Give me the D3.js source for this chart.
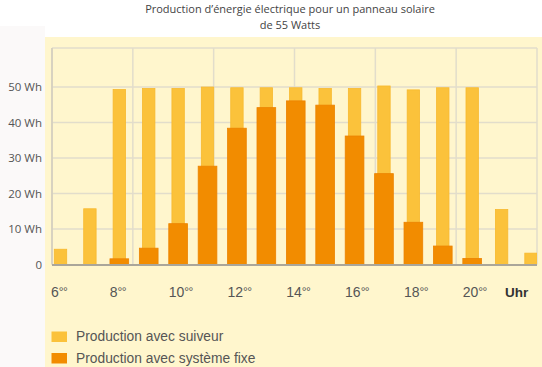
<!DOCTYPE html>
<html><head><meta charset="utf-8">
<script src="https://cdn.jsdelivr.net/npm/d3@7"></script>
<style>body{margin:0;background:#fff}svg{display:block}</style>
</head><body><svg id="c" width="542" height="367"></svg>
<script>
const hours = [6,7,8,9,10,11,12,13,14,15,16,17,18,19,20,21,22];
const suiveur = [4.3,15.7,49.3,49.6,49.6,50,49.8,49.8,49.8,49.6,49.6,50.3,49.2,49.8,49.8,15.5,3.2];
const fixe =    [0,0,1.6,4.6,11.5,27.7,38.4,44.2,46.1,44.9,36.2,25.6,11.9,5.2,1.7,0,0];
const yTicks = [0,10,20,30,40,50];
const yTickLabels = ["0","10 Wh","20 Wh","30 Wh","40 Wh","50 Wh"];
const xLabelHours = [6,8,10,12,14,16,18,20];
const legendLabels = ["Production avec suiveur","Production avec système fixe"];
const colors = ["#fbc23b","#f28c00"];

const svg = d3.select("#c");
const sans = "'Liberation Sans',Arial,sans-serif";
const myriad = "'Open Sans','Noto Sans',sans-serif";

svg.append("rect").attr("x",0).attr("y",26).attr("width",45).attr("height",341).attr("fill","#fbf9f9");
svg.append("rect").attr("x",45).attr("y",37).attr("width",497).attr("height",330).attr("fill","#fff6cd");

const L=52,R=537,T=48,B=264.5;
const y = d3.scaleLinear().domain([0,61]).range([B,T]);
const x = d3.scaleLinear().domain([6,22]).range([60.5,531]);
const g = d3.scaleLinear().domain([0,6]).range([L,R]);

// grid
svg.append("g").selectAll("line").data(yTicks.filter(d=>d>0)).join("line")
  .attr("x1",L).attr("x2",R).attr("y1",d=>y(d)).attr("y2",d=>y(d))
  .attr("stroke","#e2ddcb").attr("stroke-width",1.5);
svg.append("line").attr("x1",L).attr("x2",R).attr("y1",T).attr("y2",T).attr("stroke","#e2ddcb").attr("stroke-width",1.5);
svg.append("g").selectAll("line").data(d3.range(0,7)).join("line")
  .attr("x1",d=>g(d)).attr("x2",d=>g(d)).attr("y1",T).attr("y2",B)
  .attr("stroke","#e2ddcb").attr("stroke-width",1.5);

svg.append("clipPath").attr("id","pc").append("rect")
  .attr("x",L).attr("y",0).attr("width",R-L).attr("height",B+2);
const bars = svg.append("g").attr("clip-path","url(#pc)");
const tw=12.4, fw=18.7;
bars.selectAll("rect.s").data(hours).join("rect").attr("class","s")
  .attr("x",(d)=>x(d)-tw/2).attr("width",tw)
  .attr("y",(d,i)=>y(suiveur[i])).attr("height",(d,i)=>B-y(suiveur[i]))
  .attr("fill",colors[0]).attr("stroke","#f7b92e").attr("stroke-width",0.8);
bars.selectAll("rect.f").data(hours.filter((d,i)=>fixe[i]>0)).join("rect").attr("class","f")
  .attr("x",d=>x(d)-fw/2).attr("width",fw)
  .attr("y",d=>y(fixe[hours.indexOf(d)])).attr("height",d=>B-y(fixe[hours.indexOf(d)]))
  .attr("fill",colors[1]).attr("stroke","#ec8300").attr("stroke-width",0.8);

// axes lines
svg.append("line").attr("x1",L).attr("x2",L).attr("y1",T).attr("y2",B).attr("stroke","#d2cdbd").attr("stroke-width",1.5);
svg.append("line").attr("x1",L).attr("x2",R).attr("y1",B+0.5).attr("y2",B+0.5).attr("stroke","#aaa69a").attr("stroke-width",2);

// y labels
svg.append("g").selectAll("text").data(yTicks).join("text")
  .attr("x",42).attr("y",d=>y(d)+4).attr("text-anchor","end")
  .attr("font-family",myriad).attr("font-size",11.5).attr("fill","#555")
  .text((d,i)=>yTickLabels[i]);

// x labels
const xl = svg.append("g").selectAll("text").data(xLabelHours).join("text")
  .attr("x",d=>x(d)-9.5).attr("y",297)
  .attr("font-family",sans).attr("font-size",14).attr("fill","#555");
xl.append("tspan").text(d=>d);
xl.append("tspan").attr("font-size",12).attr("dy",-1.5).attr("letter-spacing",-0.6).text("°°");
svg.append("text").attr("x",505).attr("y",297).attr("font-family",sans).attr("font-weight","bold")
  .attr("font-size",13.5).attr("fill","#333").text("Uhr");

// legend
const lg = svg.append("g").selectAll("g").data(legendLabels).join("g")
  .attr("transform",(d,i)=>`translate(51.5,${331.5+i*21.5})`);
lg.append("rect").attr("width",15.5).attr("height",10.5).attr("fill",(d,i)=>colors[i]);
lg.append("text").attr("x",24.5).attr("y",9.5).attr("font-family",sans).attr("font-size",13.8)
  .attr("fill","#555").text(d=>d);

// title
svg.append("text").attr("x",290).attr("y",12.5).attr("text-anchor","middle")
  .attr("font-family",myriad).attr("font-size",11).attr("fill","#444")
  .text("Production d’énergie électrique pour un panneau solaire");
svg.append("text").attr("x",290).attr("y",28.5).attr("text-anchor","middle")
  .attr("font-family",myriad).attr("font-size",11).attr("fill","#444")
  .text("de 55 Watts");
</script></body></html>
